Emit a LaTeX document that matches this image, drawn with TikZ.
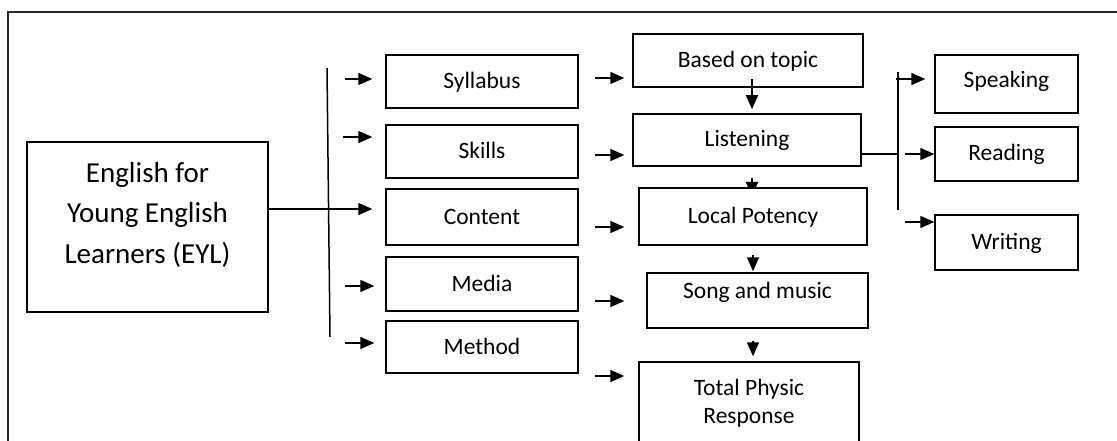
\documentclass[tikz,border=0pt]{standalone}
\usepackage{fontspec}
\setmainfont{Carlito}
\usetikzlibrary{arrows.meta}
\begin{document}
\begin{tikzpicture}[x=1pt,y=-1pt,
  box/.style={draw,line width=1.5pt,fill=white,inner sep=0pt,
    font=\fontsize{23.5}{28}\selectfont,text height=16pt,text depth=2pt},
  arr/.style={line width=1.6pt,-{Triangle[length=14pt,width=12pt]}},
  ln/.style={line width=1.5pt}]
\useasboundingbox (0,0) rectangle (1117,441);
\clip (0,0) rectangle (1117,441);
% outer frame (top and left sides lie inside the page)
\draw[line width=1.8pt,black!85] (1117,12) -- (8,12) -- (8,441);

% root
\node[box,minimum width=241pt,minimum height=170pt,font=\fontsize{29}{40.5}\selectfont,
  text height=,text depth=] (eyl) at (147.5,227)
  {\begin{tabular}{@{}c@{}}English for\\Young English\\Learners (EYL)\\[25pt]\end{tabular}};

% first level
\node[box,minimum width=192pt,minimum height=53pt] (syl) at (482,81.5) {Syllabus};
\node[box,minimum width=192pt,minimum height=53pt] (skl) at (482,151.5) {Skills};
\node[box,minimum width=192pt,minimum height=56pt] (con) at (482,217) {Content};
\node[box,minimum width=192pt,minimum height=54pt] (med) at (482,284) {Media};
\node[box,minimum width=192pt,minimum height=52pt] (met) at (482,347) {Method};

% second level
\node[box,minimum width=230pt,minimum height=53pt] (bot) at (748,60.5) {Based on topic};
\node[box,minimum width=228pt,minimum height=52pt] (lis) at (747,140) {Listening};
\draw[arr] (752,178) -- (752,196);
\node[box,minimum width=228pt,minimum height=57pt,text depth=3pt] (loc) at (753,216.5) {Local Potency};
\node[box,minimum width=221pt,minimum height=55pt,text height=10pt,text depth=15pt] (song) at (757.5,300.5) {Song and music};
\node[box,minimum width=220pt,minimum height=83pt,text height=,text depth=] (tpr) at (749,403.5)
  {\begin{tabular}{@{}c@{}}Total Physic\\Response\end{tabular}};

% skills
\node[box,minimum width=143pt,minimum height=58pt,text height=14pt,text depth=6pt] (spk) at (1006.5,84) {Speaking};
\node[box,minimum width=143pt,minimum height=54pt,text depth=3pt] (rea) at (1006.5,154) {Reading};
\node[box,minimum width=143pt,minimum height=55pt,text depth=3pt] (wri) at (1006.5,242.5) {Writing};

% branching bar on the left
\coordinate (b1t) at (327,68);
\coordinate (b1b) at (330,337);
\draw[ln] (b1t) -- (b1b);
\coordinate (j1) at (330,209);
\draw[ln] (eyl.east |- j1) -- (j1);
\draw[arr,shorten >=13pt] (j1) -- (j1 -| con.west);
\coordinate (t1) at (345,79);
\coordinate (t2) at (343,137);
\coordinate (t4) at (345,286);
\coordinate (t5) at (345,343);
\draw[arr,shorten >=13pt] (t1) -- (t1 -| syl.west);
\draw[arr,shorten >=13pt] (t2) -- (t2 -| skl.west);
\draw[arr,shorten >=11pt] (t4) -- (t4 -| med.west);
\draw[arr,shorten >=11pt] (t5) -- (t5 -| met.west);

% arrows towards the second level
\coordinate (m1) at (595,78);
\coordinate (m2) at (595,155);
\coordinate (m3) at (595,227);
\coordinate (m4) at (595,301);
\coordinate (m5) at (595,376);
\draw[arr,shorten >=8pt] (m1) -- (m1 -| bot.west);
\draw[arr,shorten >=8pt] (m2) -- (m2 -| lis.west);
\draw[arr,shorten >=14pt] (m3) -- (m3 -| loc.west);
\draw[arr,shorten >=22pt] (m4) -- (m4 -| song.west);
\draw[arr,shorten >=14pt] (m5) -- (m5 -| tpr.west);

% vertical links in the second level
\coordinate (v1) at (752,79);
\draw[arr,shorten >=4pt] (v1) -- (v1 |- lis.north);
\coordinate (v3) at (753,255);
\draw[arr,shorten >=1pt] (v3) -- (v3 |- song.north);
\coordinate (v4) at (753,341);
\draw[arr,shorten >=5pt] (v4) -- (v4 |- tpr.north);

% branching bar on the right
\coordinate (b2t) at (898,72);
\coordinate (b2b) at (898,210);
\draw[ln] (b2t) -- (b2b);
\coordinate (j2) at (898,154);
\draw[ln] (lis.east |- j2) -- (j2);
\coordinate (r1) at (896,79);
\coordinate (r2) at (905,154);
\coordinate (r3) at (905,222);
\draw[arr,shorten >=9pt] (r1) -- (r1 -| spk.west);
\draw[arr] (r2) -- (r2 -| rea.west);
\draw[arr] (r3) -- (r3 -| wri.west);
\end{tikzpicture}
\end{document}
